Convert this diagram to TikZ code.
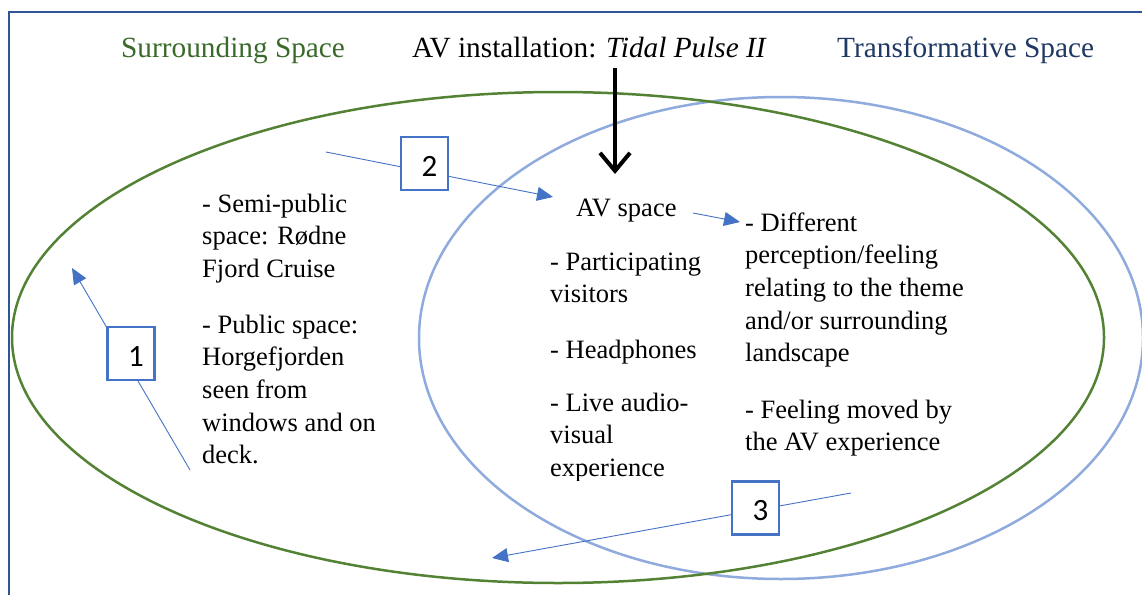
\documentclass[tikz,border=0pt]{standalone}
\usepackage{fontspec}
\setmainfont{Liberation Serif}
\newfontfamily\numfont{Carlito}
\usetikzlibrary{arrows.meta}

\definecolor{frameblue}{HTML}{2F5597}
\definecolor{surgreen}{HTML}{548235}
\definecolor{surtext}{HTML}{3A6A2A}
\definecolor{transblue}{HTML}{8FAADC}
\definecolor{transtext}{HTML}{203864}
\definecolor{connblue}{HTML}{4472C4}

% stacked lines, baseline on the first line
\newcommand\lines[1]{\begin{tabular}[t]{@{}l@{}}#1\end{tabular}}

\begin{document}
\begin{tikzpicture}[x=1pt,y=-1pt,
  body/.style={anchor=base west, inner sep=0pt, font=\fontsize{26.5}{32.7}\selectfont},
  heading/.style={anchor=base west, inner sep=0pt, font=\fontsize{29.3}{35}\selectfont},
  numbox/.style={draw=connblue, line width=2.4pt, fill=white,
    minimum width=47pt, minimum height=53pt, inner sep=0pt,
    font=\numfont\fontsize{31}{33}\selectfont, text height=25.6pt, text depth=0pt},
  conn/.style={draw=connblue, line width=0.9pt, -{Triangle[length=16pt,width=14pt]}},
]
\useasboundingbox (0,0) rectangle (1142,594);

% page frame
\draw[frameblue, line width=2.2pt] (9,600) -- (9,12) -- (1150,12);

% the two spaces
\draw[transblue, line width=2.5pt] (781,338) ellipse [x radius=362, y radius=241];
\draw[surgreen, line width=2.5pt] (558,337.5) ellipse [x radius=546, y radius=245.5];

% headings
\node[heading, text=surtext] (sur) at (121,57) {Surrounding Space};
\node[heading] (inst) at (412,57) {AV installation: \textit{Tidal Pulse II}};
\node[heading, text=transtext] (trans) at (837,57) {Transformative Space};

% installation dropping into the AV space
\coordinate (dropTop) at (615,68);
\coordinate (dropTip) at (615,174);
\draw[line width=4pt, -{Straight Barb[length=18pt,width=30pt]}] (dropTop) -- (dropTip);

% numbered movements
\coordinate (s1) at (190,470);
\coordinate (t1) at (72,268);
\draw[conn] (s1) -- (t1);
\node[numbox] (b1) at (131,353.5) {\hspace*{10pt}1};

\coordinate (s2) at (326,152);
\coordinate (t2) at (553,197);
\draw[conn] (s2) -- (t2);
\node[numbox] (b2) at (424.5,163.5) {\hspace*{10pt}2};

\coordinate (s3) at (851,493);
\coordinate (t3) at (492,558);
\draw[conn] (s3) -- (t3);
\node[numbox] (b3) at (755.5,508) {\hspace*{10pt}3};

% texts
\node[body] (semi) at (202,212) {\lines{- Semi-public\\space: Rødne\\Fjord Cruise}};
\node[body] (pub) at (202,333) {\lines{- Public space:\\Horgefjorden\\seen from\\windows and on\\deck.}};

\node[body] (av) at (576,216) {AV space};
\node[body] (part) at (550,270) {\lines{- Participating\\visitors}};
\node[body] (head) at (550,358) {- Headphones};
\begin{scope}
  \clip (540,380) rectangle (740,480);
  \node[body] (live) at (550,411) {\lines{- Live audio-\\visual\\experience}};
\end{scope}

\node[body] (diff) at (745,231) {\lines{- Different\\perception/feeling\\relating to the theme\\and/or surrounding\\landscape}};
\node[body] (moved) at (745,418) {\lines{- Feeling moved by\\the AV experience}};

% AV space leading to the effects
\coordinate (e1) at (693,213);
\coordinate (e2) at (740,222);
\draw[conn] (e1) -- (e2);
\end{tikzpicture}
\end{document}
